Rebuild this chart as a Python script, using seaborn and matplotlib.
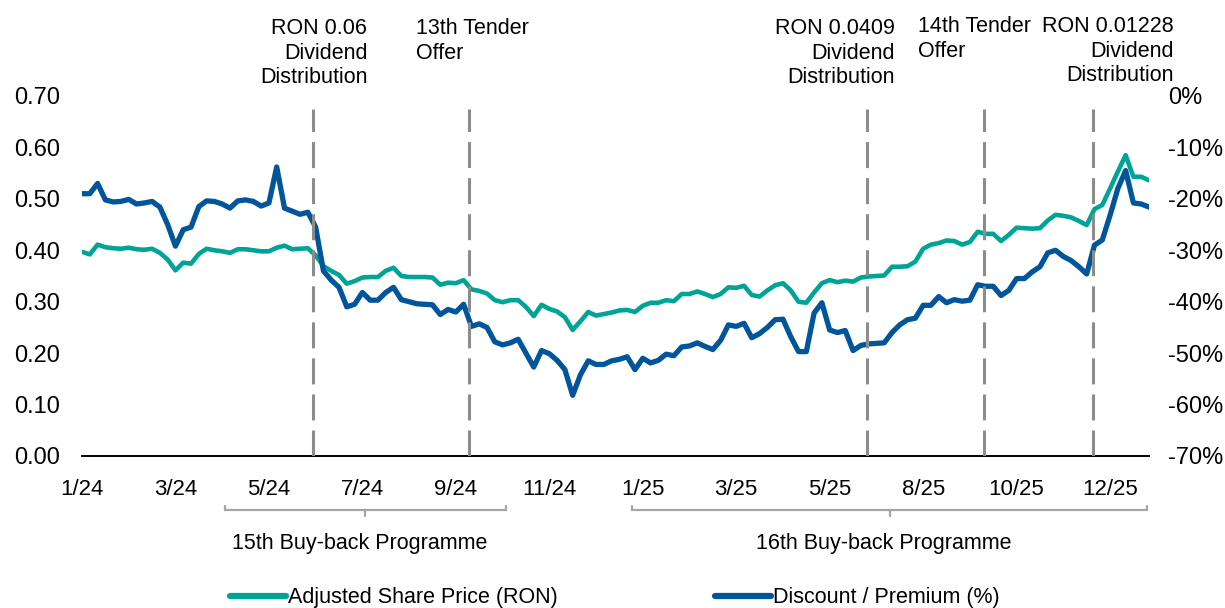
import numpy as np
import pandas as pd
import matplotlib
matplotlib.use("Agg")
import matplotlib.pyplot as plt
import seaborn as sns
from matplotlib.lines import Line2D
from matplotlib.ticker import FuncFormatter

# ---------------- data ----------------
price = [0.397, 0.392, 0.411, 0.406, 0.404, 0.403, 0.405, 0.402, 0.401, 0.403,
         0.395, 0.382, 0.361, 0.376, 0.374, 0.393, 0.403, 0.400, 0.398, 0.395,
         0.402, 0.402, 0.400, 0.398, 0.398, 0.405, 0.409, 0.402, 0.403, 0.404,
         0.390, 0.369, 0.360, 0.352, 0.335, 0.340, 0.347, 0.348, 0.348, 0.360,
         0.366, 0.350, 0.348, 0.348, 0.348, 0.347, 0.333, 0.337, 0.336, 0.342,
         0.324, 0.321, 0.316, 0.303, 0.299, 0.303, 0.303, 0.290, 0.272, 0.294,
         0.286, 0.281, 0.270, 0.245, 0.262, 0.280, 0.273, 0.276, 0.279, 0.283,
         0.284, 0.280, 0.292, 0.298, 0.298, 0.303, 0.301, 0.315, 0.315, 0.320,
         0.315, 0.309, 0.315, 0.328, 0.327, 0.331, 0.313, 0.310, 0.322, 0.332,
         0.336, 0.322, 0.300, 0.298, 0.318, 0.336, 0.342, 0.338, 0.341, 0.339,
         0.347, 0.349, 0.350, 0.351, 0.368, 0.368, 0.369, 0.378, 0.403, 0.411,
         0.414, 0.419, 0.418, 0.411, 0.416, 0.436, 0.432, 0.432, 0.418, 0.430,
         0.444, 0.443, 0.442, 0.443, 0.458, 0.469, 0.467, 0.464, 0.457, 0.449,
         0.480, 0.488, 0.520, 0.553, 0.585, 0.543, 0.543, 0.536]

discount = [-19.0, -19.0, -17.0, -20.2, -20.6, -20.5, -20.1, -21.0, -20.8, -20.5,
            -21.6, -25.0, -29.2, -26.0, -25.5, -21.5, -20.4, -20.5, -21.0, -21.8,
            -20.4, -20.2, -20.5, -21.4, -20.8, -13.8, -21.8, -22.4, -23.0, -22.6,
            -25.5, -34.0, -35.8, -37.2, -41.0, -40.5, -38.2, -39.7, -39.7, -38.2,
            -37.2, -39.6, -40.0, -40.4, -40.5, -40.6, -42.5, -41.5, -42.0, -40.5,
            -44.8, -44.3, -45.0, -47.8, -48.4, -48.0, -47.3, -50.0, -52.7, -49.5,
            -50.1, -51.4, -53.2, -58.2, -54.2, -51.5, -52.2, -52.2, -51.5, -51.2,
            -50.7, -53.2, -51.0, -51.9, -51.4, -50.2, -50.5, -48.8, -48.6, -48.0,
            -48.7, -49.3, -47.5, -44.5, -44.8, -44.2, -47.0, -46.2, -45.0, -43.5,
            -43.4, -46.8, -49.7, -49.7, -42.2, -40.2, -45.5, -46.0, -45.6, -49.5,
            -48.5, -48.2, -48.1, -48.0, -46.0, -44.5, -43.5, -43.2, -40.7, -40.7,
            -39.0, -40.2, -39.6, -39.9, -39.7, -36.7, -37.0, -37.0, -38.8, -37.8,
            -35.5, -35.5, -34.2, -33.2, -30.5, -30.0, -31.2, -32.0, -33.2, -34.6,
            -29.0, -28.0, -23.2, -18.0, -14.5, -20.8, -21.0, -21.6]

tick_labels = ["1/24", "3/24", "5/24", "7/24", "9/24", "11/24",
               "1/25", "3/25", "5/25", "8/25", "10/25", "12/25"]
samples_per_tick = 12

event_pos = [29.7, 49.7, 100.8, 115.8, 129.8]
event_text = ["RON 0.06\nDividend\nDistribution",
              "13th Tender\nOffer",
              "RON 0.0409\nDividend\nDistribution",
              "14th Tender\nOffer",
              "RON 0.01228\nDividend\nDistribution"]

programme_names = ["15th Buy-back Programme", "16th Buy-back Programme"]
programme_start = [18.3, 70.6]
programme_end = [54.5, 136.8]

series_names = ["Adjusted Share Price (RON)", "Discount / Premium (%)"]

# ---------------- style ----------------
TEAL = "#00A497"
BLUE = "#00559B"
DASH = "#8C8C8C"
BRACKET = "#A6A6A6"
FS = 15.5
FS_X = 16
FS_Y = 17

sns.set_style("white")
plt.rcParams["font.family"] = ["Liberation Sans", "DejaVu Sans"]
plt.rcParams["text.color"] = "black"

df = pd.DataFrame({"idx": np.arange(len(price)),
                   "price": price,
                   "discount": discount})

fig = plt.figure(figsize=(12.25, 6.08), dpi=100)
ax = fig.add_axes([82 / 1225, 1 - 456 / 608, (1149 - 82) / 1225, 360 / 608])
ax2 = ax.twinx()

sns.lineplot(data=df, x="idx", y="price", ax=ax, color=TEAL, lw=3.3,
             solid_joinstyle="round", solid_capstyle="round", legend=False)
sns.lineplot(data=df, x="idx", y="discount", ax=ax2, color=BLUE, lw=3.8,
             solid_joinstyle="round", solid_capstyle="round", legend=False)

n = len(price)
ax.set_xlim(0, n - 1)
ax.set_ylim(0, 0.70)
ax2.set_ylim(-70, 0)

ax.set_yticks(np.arange(0, 0.71, 0.1))
ax.yaxis.set_major_formatter(FuncFormatter(lambda v, p: f"{v:.2f}"))
ax2.set_yticks(np.arange(-70, 1, 10))
ax2.yaxis.set_major_formatter(FuncFormatter(lambda v, p: f"{v:.0f}%"))

ax.set_xticks(np.arange(len(tick_labels)) * samples_per_tick)
ax.set_xticklabels(tick_labels)

for a in (ax, ax2):
    a.set_xlabel("")
    a.set_ylabel("")
    for s in a.spines.values():
        s.set_visible(False)
    a.grid(False)
ax.spines["bottom"].set_visible(True)
ax.spines["bottom"].set_color("black")
ax.spines["bottom"].set_linewidth(1.4)

ax.tick_params(axis="x", length=0, pad=16.5, labelsize=FS_X, colors="black")
ax.tick_params(axis="y", length=0, pad=16, labelsize=FS_Y, colors="black")
ax2.tick_params(axis="y", length=0, pad=13.5, labelsize=FS_Y, colors="black")

# event dashed lines
for x in event_pos:
    ax2.axvline(x, ymin=0, ymax=0.964, color=DASH, lw=2.2,
                dashes=(8.5, 3.3), zorder=5)

# event annotations
offsets = [(54, 78, "right"), (-53, 78, "left"), (28, 78, "right"),
           (-66, 80, "left"), (81, 80, "right")]
for x, txt, (dx, dy, ha) in zip(event_pos, event_text, offsets):
    ax2.annotate(txt, xy=(x, 1.0), xycoords=("data", "axes fraction"),
                 xytext=(dx, dy), textcoords="offset pixels",
                 ha=ha, va="top", fontsize=FS, linespacing=1.22,
                 annotation_clip=False)

# buy-back programme brackets
trans = ax.get_xaxis_transform()
y_line, y_hook, y_tick, y_lab = -0.150, -0.139, -0.168, -0.243
for name, x0, x1 in zip(programme_names, programme_start, programme_end):
    xc = (x0 + x1) / 2
    ax.plot([x0, x0, x1, x1], [y_hook, y_line, y_line, y_hook], transform=trans,
            clip_on=False, color=BRACKET, lw=1.6, solid_joinstyle="miter")
    ax.plot([xc, xc], [y_line, y_tick], transform=trans, clip_on=False,
            color=BRACKET, lw=1.6)
    ax.text(xc - 0.7, y_lab, name, transform=trans, ha="center", va="center",
            fontsize=FS)

# legend
handles = [Line2D([0], [0], color=TEAL, lw=4.5, solid_capstyle="round"),
           Line2D([0], [0], color=BLUE, lw=4.5, solid_capstyle="round")]
fig.legend(handles, series_names, loc="center", bbox_to_anchor=(0.502, 0.017),
           ncol=2, frameon=False, handlelength=2.6, handletextpad=0.1,
           columnspacing=7.3, fontsize=FS)

fig.savefig("out.png", dpi=100)
